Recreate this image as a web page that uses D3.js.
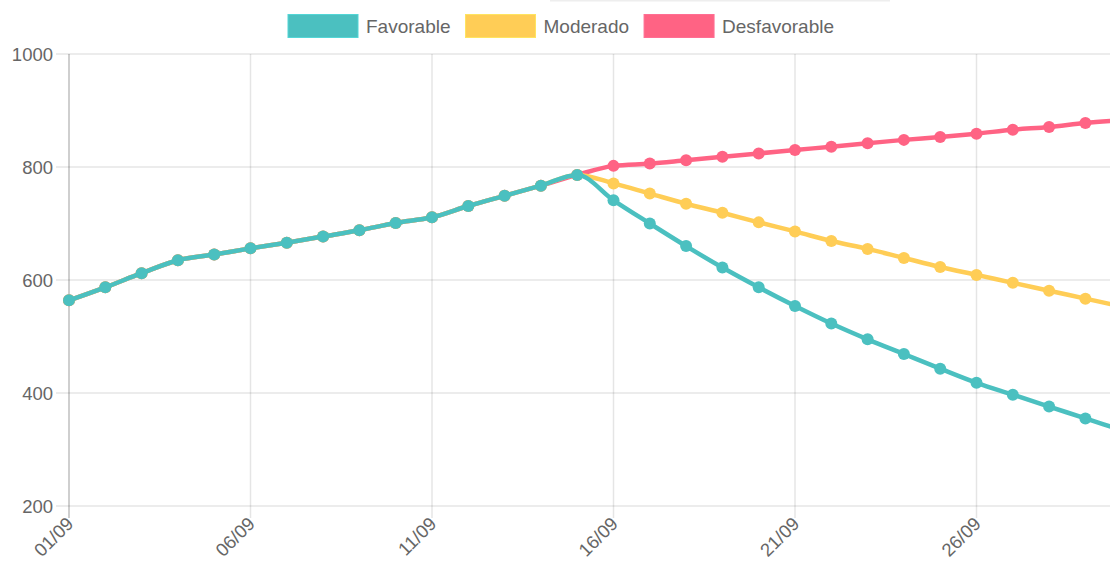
<!DOCTYPE html>
<html>
<head>
<meta charset="utf-8">
<script src="https://cdn.jsdelivr.net/npm/d3@7"></script>
<style>
  html, body { margin: 0; padding: 0; background: #fff; overflow: hidden; }
  svg { display: block; font-family: "Liberation Sans", Arial, Helvetica, sans-serif; }
</style>
</head>
<body>
<div id="chart"></div>
<script>
// Days of September shown on the x axis
const days = ["01/09","02/09","03/09","04/09","05/09","06/09","07/09","08/09","09/09","10/09",
              "11/09","12/09","13/09","14/09","15/09","16/09","17/09","18/09","19/09","20/09",
              "21/09","22/09","23/09","24/09","25/09","26/09","27/09","28/09","29/09","30/09"];

// History shared by all three scenarios (01/09 - 15/09)
const history = [564, 587, 612, 635, 645, 656, 666, 677, 688, 701, 711, 731, 749, 767, 786];

// Projections from 16/09 onwards
const favorable    = [741, 700, 660, 622, 587, 554, 523, 495, 469, 443, 418, 397, 376, 355, 334];
const moderado     = [771, 753, 735, 719, 702, 686, 669, 655, 639, 623, 609, 595, 581, 567, 553];
const desfavorable = [802, 806, 812, 818, 824, 830, 836, 842, 848, 853, 859, 866, 871, 878, 883];

const yTicks = [200, 400, 600, 800, 1000];

const series = [
    { name: "Favorable",    color: "#4BC0C0", values: history.concat(favorable) },
    { name: "Moderado",     color: "#FFCD56", values: history.concat(moderado) },
    { name: "Desfavorable", color: "#FF6384", values: history.concat(desfavorable) }
];

const width = 1140, height = 563;
const plot = { left: 69, right: 1121.7, top: 54, bottom: 506 };

const svg = d3.select("#chart").append("svg")
    .attr("width", width)
    .attr("height", height);

// faint strip at the very top
svg.append("rect")
    .attr("x", 550).attr("y", 0).attr("width", 340).attr("height", 1.5)
    .attr("fill", "#eeeeee");

const x = d3.scalePoint().domain(days).range([plot.left, plot.right]);
const y = d3.scaleLinear().domain([200, 1000]).range([plot.bottom, plot.top]);

const xTicks = days.filter((d, i) => i % 5 === 0);

// grid lines
svg.append("g").selectAll("line")
    .data(yTicks)
    .enter().append("line")
    .attr("x1", plot.left - 13)
    .attr("x2", plot.right)
    .attr("y1", d => y(d))
    .attr("y2", d => y(d))
    .style("stroke", "rgba(0,0,0,0.1)")
    .style("stroke-width", "1.5px");

svg.append("g").selectAll("line")
    .data(xTicks)
    .enter().append("line")
    .attr("x1", d => x(d))
    .attr("x2", d => x(d))
    .attr("y1", plot.top)
    .attr("y2", plot.bottom + 12)
    .style("stroke", (d, i) => i === 0 ? "rgba(0,0,0,0.25)" : "rgba(0,0,0,0.1)")
    .style("stroke-width", "1.5px");

// y axis labels
const yAxis = svg.append("g")
    .attr("transform", `translate(${plot.left - 16},0)`)
    .call(d3.axisLeft(y).tickValues(yTicks).tickFormat(d3.format("d")).tickSize(0).tickPadding(0));
yAxis.select(".domain").remove();
yAxis.selectAll("text")
    .attr("dy", "0.35em")
    .style("font-size", "18.5px")
    .style("fill", "#666")
    .style("font-family", "'Liberation Sans', Arial, sans-serif");

// x axis labels, rotated
const xAxis = svg.append("g")
    .attr("transform", `translate(0,${plot.bottom})`)
    .call(d3.axisBottom(x).tickValues(xTicks).tickSize(0));
xAxis.select(".domain").remove();
xAxis.selectAll("text")
    .attr("x", 0).attr("y", 0).attr("dy", 0)
    .attr("transform", "translate(5,19) rotate(-45)")
    .style("text-anchor", "end")
    .style("font-size", "18.5px")
    .style("fill", "#666")
    .style("font-family", "'Liberation Sans', Arial, sans-serif");

// lines, drawn so the first dataset ends up on top
const line = d3.line()
    .x((d, i) => x(days[i]))
    .y(d => y(d))
    .curve(d3.curveMonotoneX);

series.slice().reverse().forEach(s => {
    const g = svg.append("g");
    g.append("path")
        .datum(s.values)
        .attr("d", line)
        .style("fill", "none")
        .style("stroke", s.color)
        .style("stroke-width", "4.5px");
    g.selectAll("circle")
        .data(s.values)
        .enter().append("circle")
        .attr("cx", (d, i) => x(days[i]))
        .attr("cy", d => y(d))
        .attr("r", 6)
        .style("fill", s.color);
});

// legend
const legend = svg.append("g").attr("transform", "translate(288,0)");
let cursor = 0;
series.forEach(s => {
    const g = legend.append("g").attr("transform", `translate(${cursor},0)`);
    g.append("rect")
        .attr("width", 70).attr("height", 23)
        .attr("y", 14.5)
        .style("fill", s.color)
        .style("stroke", d3.color(s.color).brighter(0.3))
        .style("stroke-width", "1px");
    const t = g.append("text")
        .attr("x", 78).attr("y", 26).attr("dy", "0.35em")
        .style("font-size", "19px")
        .style("fill", "#666")
        .text(s.name);
    cursor += 78 + t.node().getComputedTextLength() + 15;
});
</script>
</body>
</html>
